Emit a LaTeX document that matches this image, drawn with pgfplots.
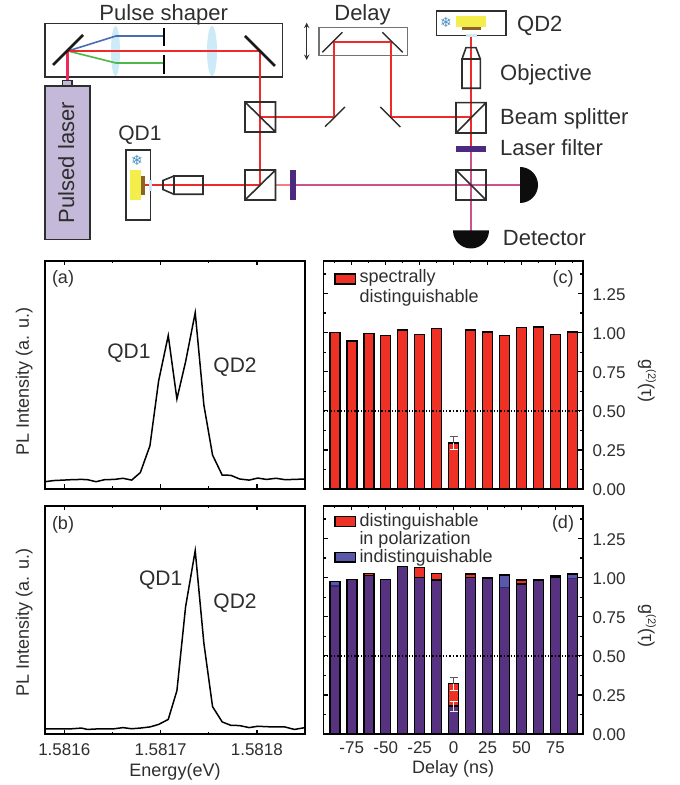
\documentclass[border=0pt]{standalone}
\usepackage{fontspec}
\setmainfont{Liberation Sans}
\newfontfamily\sym{DejaVu Sans}
\usepackage{pgfplots}
\usepackage{pgfplotstable}
\pgfplotsset{compat=1.18}
\definecolor{txt}{HTML}{2E2E2E}
\definecolor{barred}{HTML}{EE3124}
\definecolor{barblue}{HTML}{363395}
\definecolor{swblue}{HTML}{5A58A8}
\definecolor{beam}{HTML}{EE2A2A}
\definecolor{pinkbeam}{HTML}{C9528F}
\definecolor{lens}{HTML}{CDEAF7}
\definecolor{filt}{HTML}{4B2A80}
\definecolor{qdy}{HTML}{F4EE4C}
\definecolor{qdb}{HTML}{8B6428}
\definecolor{frost}{HTML}{4A90C0}
\definecolor{rayblue}{HTML}{4A6CB5}
\definecolor{raygreen}{HTML}{4DB848}
\definecolor{laser}{HTML}{C5B9D9}
\definecolor{pump}{HTML}{EE2A5B}
\newcommand{\fs}[1]{\fontsize{#1}{#1}\selectfont}

% spectra: energy (eV), intensity (normalised to the frame height)
\pgfplotstableread{
E a b
1.581580 .032 .022
1.581589 .037 .023
1.581599 .039 .022
1.581608 .041 .023
1.581618 .042 .026
1.581624 .041 .020
1.581633 .032 .022
1.581642 .041 .023
1.581652 .042 .023
1.581661 .047 .028
1.581670 .039 .023
1.581679 .072 .026
1.581689 .190 .031
1.581698 .474 .042
1.581708 .673 .064
1.581717 .395 .190
1.581726 .558 .558
1.581736 .773 .804
1.581745 .368 .398
1.581754 .149 .120
1.581764 .061 .053
1.581773 .060 .038
1.581782 .044 .037
1.581792 .039 .028
1.581801 .048 .034
1.581810 .042 .032
1.581820 .047 .031
1.581829 .041 .031
1.581839 .042 .020
1.581850 .044 .028
}\spectra

% correlation peaks: delay (ns), c, d red, d blue
\pgfplotstableread{
t c dr db
-87.5 1.000 .947 .974
-75 .947 .987 .987
-62.5 .994 1.026 1.013
-50 .981 .987 .987
-37.5 1.017 1.070 1.070
-25 .987 1.064 1.000
-12.5 1.026 1.026 .983
0 .296 .322 .179
12.5 1.015 1.023 1.002
25 1.004 .998 .998
37.5 .981 .936 1.017
50 1.032 .985 .960
62.5 1.036 .983 .983
75 .989 1.009 1.004
87.5 1.004 .994 1.023
}\peaks

\pgfplotsset{
  panel/.style={
    scale only axis, width=#1, height=228pt,
    axis line style={line width=1.6pt,black},
    tick style={line width=1.3pt,black},
    tick align=inside,
    major tick length=4.5pt, minor tick length=2.5pt,
    tick label style={font=\fs{17},text=txt},
    label style={font=\fs{18},text=txt},
    /pgf/number format/assume math mode=true,
  },
  spec/.style={
    panel=260pt,
    xmin=1.58158, xmax=1.58185, ymin=0, ymax=1,
    xtick={1.5816,1.5817,1.5818},
    minor xtick={1.58165,1.58175},
    ytick=\empty,
    xticklabel style={yshift=-6pt,/pgf/number format/.cd,fixed,fixed zerofill,precision=4},
    scaled x ticks=false,
    ylabel={PL Intensity (a. u.)},
  },
  corr/.style={
    panel=259.5pt,
    xmin=-95.8, xmax=95.3, ymin=0, ymax=1.458,
    xtick={-75,-50,...,75},
    minor xtick={-87.5,-62.5,-37.5,-12.5,12.5,37.5,62.5,87.5},
    ytick={0,.25,.5,.75,1,1.25},
    minor ytick={.125,.375,.625,.875,1.125,1.375},
    yticklabel pos=right,
    xticklabel style={yshift=-4pt},
    yticklabel style={xshift=6pt,yshift=-1pt,/pgf/number format/.cd,fixed,fixed zerofill,precision=2},
    ylabel={g\textsuperscript{\fs{11}(2)}(τ)},
  },
  peak/.style={ybar, bar width=10pt, bar shift=0pt, draw=black, line width=1.6pt},
  err/.style n args={2}{draw=none, mark=none, forget plot,
    error bars/.cd, y dir=#1, y explicit,
    error bar style={#2,line width=1pt},
    error mark options={rotate=90,mark size=4pt,#2,line width=1pt}},
}

\begin{document}
\begin{tikzpicture}
\useasboundingbox (0,0) rectangle (680pt,785pt);

% (a)
\begin{axis}[spec, at={(45pt,296pt)}, anchor=south west, xticklabels={},
  ylabel style={at={(axis description cs:-.08,.47)},anchor=center}]
\addplot[black, line width=1.5pt] table[x=E,y=a] {\spectra};
\end{axis}

% (b)
\begin{axis}[spec, at={(45pt,51pt)}, anchor=south west, xlabel={Energy(eV)},
  ylabel style={at={(axis description cs:-.08,.489)},anchor=center},
  xlabel style={at={(axis description cs:.5,-.167)},anchor=center}]
\addplot[black, line width=1.5pt] table[x=E,y=b] {\spectra};
\end{axis}

% (c)
\begin{axis}[corr, at={(323.5pt,296pt)}, anchor=south west, xticklabels={},
  ylabel style={at={(axis description cs:1.2466,.474)},anchor=center,rotate=180}]
\addplot[peak, fill=barred] table[x=t,y=c] {\peaks};
\addplot[err={plus}{txt!80}] coordinates {(0,.296) +- (0,.039)};
\addplot[err={minus}{white}] coordinates {(0,.296) +- (0,.042)};
\addplot[black, line width=1.4pt, dotted] coordinates {(-95.8,.5) (95.3,.5)};
\end{axis}

% (d)
\begin{axis}[corr, at={(323.5pt,51pt)}, anchor=south west, xlabel={Delay (ns)},
  ylabel style={at={(axis description cs:1.2466,.474)},anchor=center,rotate=180},
  xlabel style={at={(axis description cs:.5,-.1535)},anchor=center}]
\addplot[peak, fill=barred] table[x=t,y=dr] {\peaks};
\addplot[peak, fill=barblue, fill opacity=.82] table[x=t,y=db] {\peaks};
\addplot[err={plus}{txt!80}] coordinates {(0,.322) +- (0,.038)};
\addplot[err={minus}{white}] coordinates {(0,.322) +- (0,.041)};
\addplot[err={plus}{white}] coordinates {(0,.179) +- (0,.028)};
\addplot[err={minus}{white!80!gray}] coordinates {(0,.179) +- (0,.032)};
\addplot[black, line width=1.4pt, dotted] coordinates {(-95.8,.5) (95.3,.5)};
\end{axis}

% everything below in reference pixels, y downwards
\begin{scope}[x=1pt,y=-1pt,shift={(0pt,785pt)},
  lbl/.style={text=txt,inner sep=0pt,font=\fs{22},anchor=base west},
  lblc/.style={text=txt,inner sep=0pt,font=\fs{22},anchor=base},
  pan/.style={text=txt,inner sep=0pt,font=\fs{18},anchor=center},
  leg/.style={text=txt,inner sep=0pt,font=\fs{18},anchor=base west},
  optic/.style={draw=txt,line width=1.6pt},
  ray/.style={draw=beam,line width=2pt},
  pray/.style={draw=pinkbeam,line width=2pt}]

% panel annotations
\node[pan] at (63,279) {(a)};
\node[pan] at (63,525) {(b)};
\node[pan] at (563,279) {(c)};
\node[pan] at (563,524) {(d)};
\node[pan,font=\fs{21}] at (129,352.7) {QD1};
\node[pan,font=\fs{21}] at (235,367) {QD2};
\node[pan,font=\fs{21}] at (160.7,580) {QD1};
\node[pan,font=\fs{21}] at (235,603) {QD2};

% legends
\draw[black,line width=1.6pt,fill=barred] (334.7,274) rectangle (355.3,284);
\node[leg] at (359.3,282.7) {spectrally};
\node[leg] at (359.3,302.7) {distinguishable};
\draw[black,line width=1.6pt,fill=barred] (334.7,516.7) rectangle (355.3,526.7);
\node[text=txt,inner sep=0pt,anchor=north west,align=left,font=\fontsize{18}{16}\selectfont]
  at (359.3,513.7) {distinguishable\\in polarization};
\draw[black,line width=1.6pt,fill=swblue] (334.7,552.7) rectangle (355.3,562.3);
\node[leg] at (359.3,562.3) {indistinguishable};

% pulse shaper
\draw[txt,line width=1.2pt] (45,23.5) rectangle (282.5,77);
\fill[lens] (115.5,51) ellipse (4.5 and 25);
\fill[lens] (212,51) ellipse (5 and 25);
\draw[pump,line width=3pt] (67.5,52) -- (67.5,81);
\draw[rayblue,line width=1.6pt] (68,51) -- (116,36) -- (163,36);
\draw[raygreen,line width=1.6pt] (68,51) -- (116,63) -- (163,63);
\draw[ray] (68,51) -- (260,51) -- (260,185) -- (145,185);
\draw[black,line width=1.5pt] (164,28) -- (164,46) (164,55) -- (164,74);
\draw[black!90,line width=2.8pt] (53,65) -- (83,35);
\draw[black!90,line width=2.8pt] (245,36) -- (275,66);
\node[lblc] at (163.7,20.7) {Pulse shaper};

% laser
\draw[optic,fill=laser] (62.5,80.5) rectangle (72,86);
\draw[optic,fill=laser] (45,86) rectangle (90,239.5);
\node[lblc,rotate=90] at (74,162.5) {Pulsed laser};

% delay line
\draw[gray!90!black,line width=1.2pt] (319,27.3) rectangle (407.7,55.7);
\draw[ray] (260,117) -- (334,117) -- (334,42) -- (391,42) -- (391,117) -- (471,117);
\draw[txt,line width=1.4pt] (322.3,52.3) -- (342.3,32.3) (382.3,32.3) -- (402.7,52.3)
  (325,126.7) -- (345,107) (380.3,107) -- (400.3,127);
\draw[txt,line width=1.4pt,<->,>=stealth] (306.7,22.7) -- (306.7,60);
\node[lblc] at (362.5,21) {Delay};

% lower beams
\draw[pray] (296,185) -- (520,185);
\draw[pray] (471,150) -- (471,231);
\draw[ray] (471,36) -- (471,147);
\draw[beam!60!white,line width=1.2pt] (275,185) -- (291,185);

% beam splitters
\draw[optic] (245,102) rectangle (275.5,132) (245,102) -- (275.5,132);
\draw[optic] (245,170) rectangle (275.5,200) (245,200) -- (275.5,170);
\draw[optic] (456,102.7) rectangle (486,133) (456,133) -- (486,102.7);
\draw[optic] (456,170) rectangle (486,200) (456,170) -- (486,200);
\fill[filt] (290,170) rectangle (296,200);
\fill[filt] (456,146) rectangle (486,152);

% QD1
\draw[optic] (126,150) rectangle (150.5,220);
\node[font=\sym\fs{14},text=frost,inner sep=0pt] at (137,160.5) {❄};
\fill[qdy] (130,170) rectangle (141,200);
\fill[qdb] (141,176) rectangle (145,195);
\fill[lens] (149,180) rectangle (152,191);
\draw[optic] (174,176) rectangle (203,194.3) (174,176) -- (163,180.5) -- (163,189.5) -- (174,194.3);
\node[lblc,font=\fs{21}] at (140,141) {QD1};

% QD2
\draw[optic] (436.3,11) rectangle (506,35.7);
\node[font=\sym\fs{14},text=frost,inner sep=0pt] at (446,22) {❄};
\fill[qdy] (456,16) rectangle (486,26.7);
\fill[qdb] (462,26.7) rectangle (480.7,30);
\fill[lens] (466,34) rectangle (476.7,36.7);
\draw[optic] (462,59) rectangle (480.3,88.3) (462,59) -- (466,47.7) -- (476,47.7) -- (480.3,59);
\node[lbl] at (517,31.7) {QD2};
\node[lbl] at (500,80.7) {Objective};
\node[lbl] at (500,124.7) {Beam splitter};
\node[lbl] at (500,156) {Laser filter};
\node[lbl] at (502.7,245.7) {Detector};

% detectors
\fill[black!95] (520,167) arc[start angle=-90,end angle=90,radius=18] -- cycle;
\fill[black!95] (453,230.5) arc[start angle=180,end angle=0,radius=18] -- cycle;
\end{scope}
\end{tikzpicture}
\end{document}
